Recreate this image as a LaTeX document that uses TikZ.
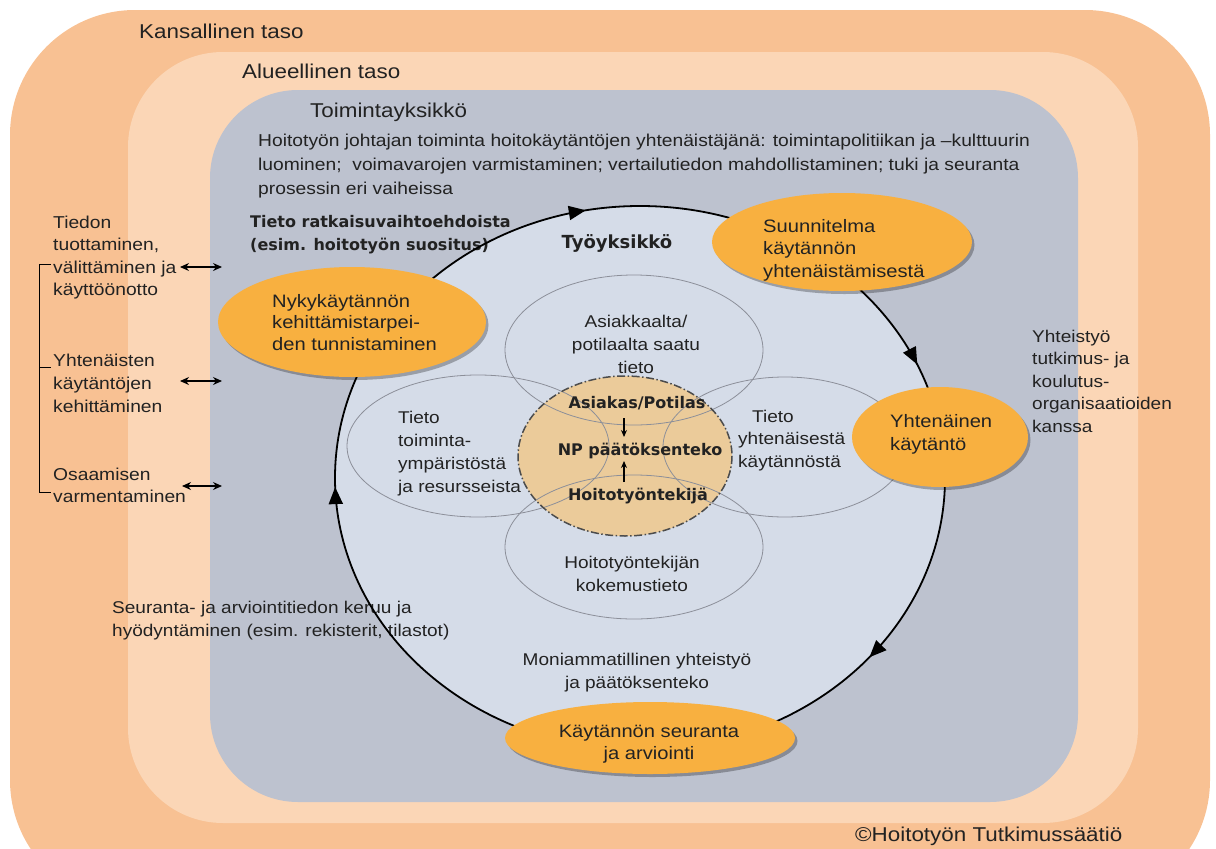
\documentclass[tikz,border=0pt]{standalone}
\usepackage{fontspec}
\setmainfont[FakeStretch=1.12]{Liberation Sans}
\newfontfamily\boldfam{DejaVu Sans}
\usetikzlibrary{shapes.geometric,arrows.meta,decorations.markings,shadows}
\definecolor{natC}{HTML}{F8C193}
\definecolor{regC}{HTML}{FBD6B6}
\definecolor{unitC}{HTML}{BDC2CF}
\definecolor{cycC}{HTML}{D5DCE8}
\definecolor{oraC}{HTML}{F8B040}
\definecolor{tanC}{HTML}{EBCB9A}
\definecolor{petC}{HTML}{8C8F99}
\definecolor{txtC}{HTML}{222222}
\newcommand\fsz[2]{\fontsize{#1}{#2}\selectfont}
\tikzset{
  lvl/.style={rectangle, inner sep=0pt},
  petal/.style={ellipse, draw=petC, line width=0.8pt, inner sep=0pt},
  oell/.style={ellipse, fill=oraC, inner sep=0pt,
     drop shadow={shadow xshift=2.5pt, shadow yshift=-3pt, fill=black, opacity=0.28}},
  txt/.style={anchor=base west, align=left, text=txtC, inner sep=0pt},
  ctxt/.style={anchor=base, align=center, text=txtC, inner sep=0pt},
  bold/.style={font=\boldfam\bfseries\fsz{16}{23}},
  dbl/.style={{Stealth[length=9pt,width=8pt]}-{Stealth[length=9pt,width=8pt]}, line width=1.2pt, black},
  brk/.style={line width=1pt, black},
  sarrow/.style={-{Stealth[length=7pt,width=6pt]}, line width=1.1pt},
}
\begin{document}
\begin{tikzpicture}[x=1pt,y=-1pt]
\useasboundingbox (0,0) rectangle (1216,849);
\begin{scope}
\clip (0,0) rectangle (1216,849);
\node[lvl, fill=natC, rounded corners=125pt, minimum width=1200pt, minimum height=895pt] (nat) at (610,457.5) {};
\end{scope}
\node[lvl, fill=regC, rounded corners=95pt, minimum width=1010pt, minimum height=771pt] (reg) at (633,437.5) {};
\node[lvl, fill=unitC, rounded corners=88pt, minimum width=868pt, minimum height=712pt] (unit) at (644,446) {};

% titles (base anchor = last line baseline)
\node[txt, font=\fsz{20}{23}] (tnat) at (139,38) {Kansallinen taso};
\node[txt, font=\fsz{20}{23}] (treg) at (242,78) {Alueellinen taso};
\node[txt, font=\fsz{20}{23}] (tunit) at (310,117) {Toimintayksikkö};
\node[txt, font=\fsz{17.2}{24}] (para) at (258,194) {Hoitotyön johtajan toiminta hoitokäytäntöjen yhtenäistäjänä: toimintapolitiikan ja –kulttuurin\\luominen;\ \ voimavarojen varmistaminen; vertailutiedon mahdollistaminen; tuki ja seuranta\\prosessin eri vaiheissa};

% big cycle fill
\node[ellipse, fill=cycC, inner sep=0pt, minimum width=610pt, minimum height=544pt] (cyc) at (640,478) {};

% petals
\node[ellipse, fill=tanC, inner sep=0pt, minimum width=214pt, minimum height=160pt] (core) at (625,456) {};
\node[petal, minimum width=258pt, minimum height=150pt] (ptop) at (634,350) {};
\node[petal, minimum width=262pt, minimum height=142pt] (pleft) at (478,446) {};
\node[petal, minimum width=244pt, minimum height=140pt] (pright) at (785,447) {};
\node[petal, minimum width=258pt, minimum height=144pt] (pbot) at (634,547) {};
\draw[draw=black!70, line width=1.5pt, dash pattern=on 8pt off 2.5pt on 1.5pt off 2.5pt] (core.center) ellipse [x radius=107, y radius=80];

% petal texts
\node[ctxt, font=\fsz{17}{23}] (tpt) at (636,373) {Asiakkaalta/\\potilaalta saatu\\tieto};
\node[txt, font=\fsz{17}{23}] (tpl) at (398,492) {Tieto\\toiminta-\\ympäristöstä\\ ja resursseista};
\node[txt, font=\fsz{17}{22.5}] (tpr) at (738,467) {\hspace*{14pt}Tieto\\yhtenäisestä\\käytännöstä};
\node[ctxt, font=\fsz{17}{23}] (tpb) at (632,591) {Hoitotyöntekijän\\kokemustieto};

% core texts
\node[ctxt, bold] (asiak) at (637,408) {Asiakas/Potilas};
\node[ctxt, bold] (np) at (640,455) {NP päätöksenteko};
\node[ctxt, bold] (hoit) at (638,500) {Hoitotyöntekijä};
\coordinate (a1) at (624,418);
\coordinate (a2) at (624,437);
\coordinate (a3) at (624,482);
\coordinate (a4) at (624,461);
\draw[sarrow] (a1) -- (a2);
\draw[sarrow] (a3) -- (a4);

% other texts
\node[txt, bold] (tieto) at (250,250) {Tieto ratkaisuvaihtoehdoista\\(esim. hoitotyön suositus)};
\node[ctxt, font=\boldfam\bfseries\fsz{18}{23}] (tyo) at (617,248) {Työyksikkö};
\node[txt, font=\fsz{17}{22.5}] (seur) at (112,636) {Seuranta- ja arviointitiedon keruu ja\\hyödyntäminen (esim. rekisterit, tilastot)};
\node[ctxt, font=\fsz{17}{22.5}] (moni) at (637,688) {Moniammatillinen yhteistyö\\ja päätöksenteko};

% cycle outline with arrows
\draw[line width=1.8pt, postaction={decorate}, decoration={markings,
  mark=at position 0.11 with {\arrow{Triangle[length=17pt,width=14pt]}},
  mark=at position 0.495 with {\arrow{Triangle[length=17pt,width=14pt]}},
  mark=at position 0.72 with {\arrow{Triangle[length=17pt,width=14pt]}},
  mark=at position 0.935 with {\arrow{Triangle[length=17pt,width=14pt]}}}]
  (cyc.center) ellipse [x radius=305, y radius=272];

% orange process ellipses
\node[oell, minimum width=268pt, minimum height=110pt] (nyky) at (352,322) {};
\node[txt, font=\fsz{18}{21.5}] (tnyky) at (272,350) {Nykykäytännön\\kehittämistarpei-\\den tunnistaminen};
\node[oell, minimum width=260pt, minimum height=98pt] (suun) at (842,242) {};
\node[txt, font=\fsz{18}{22.5}] (tsuun) at (763,277) {Suunnitelma\\käytännön\\yhtenäistämisestä};
\node[oell, minimum width=176pt, minimum height=100pt] (yht) at (940,437) {};
\node[txt, font=\fsz{18}{23}] (tyht) at (890,450) {Yhtenäinen\\käytäntö};
\node[oell, minimum width=290pt, minimum height=72pt] (kayt) at (650,738) {};
\node[ctxt, font=\fsz{18}{22.5}] (tkayt) at (649,759.5) {Käytännön seuranta\\ja arviointi};

% left column
\node[txt, font=\fsz{17.2}{22.5}] (c1) at (53,295.5) {Tiedon\\tuottaminen,\\välittäminen ja\\käyttöönotto};
\node[txt, font=\fsz{17.2}{23}] (c2) at (53,412) {Yhtenäisten\\käytäntöjen\\kehittäminen};
\node[txt, font=\fsz{17.2}{22}] (c3) at (53,502) {Osaamisen\\varmentaminen};
\coordinate (b1) at (51,264);
\coordinate (b1c) at (39,264);
\coordinate (b2) at (51,367);
\coordinate (b2c) at (39,367);
\coordinate (b3) at (51,492);
\coordinate (b3c) at (39,492);
\draw[brk] (b1) -- (b1c) -- (b3c) -- (b3);
\draw[brk] (b2c) -- (b2);
\coordinate (d1a) at (180,267); \coordinate (d1b) at (222,267);
\coordinate (d2a) at (180,381); \coordinate (d2b) at (222,381);
\coordinate (d3a) at (182,486); \coordinate (d3b) at (222,486);
\draw[dbl] (d1a) -- (d1b);
\draw[dbl] (d2a) -- (d2b);
\draw[dbl] (d3a) -- (d3b);

% right column
\node[txt, font=\fsz{17}{22.5}] (yhteis) at (1032,432) {Yhteistyö\\tutkimus- ja\\koulutus-\\organisaatioiden\\kanssa};

% copyright
\node[txt, font=\fsz{20}{22}] (copy) at (855,841) {©Hoitotyön Tutkimussäätiö};
\end{tikzpicture}
\end{document}
